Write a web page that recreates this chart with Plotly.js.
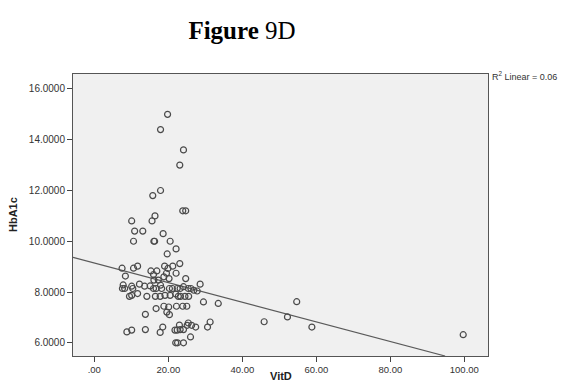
<!DOCTYPE html>
<html>
<head>
<meta charset="utf-8">
<script src="https://cdn.plot.ly/plotly-3.0.1.min.js"></script>
<style>html,body{margin:0;padding:0;background:#fff;}#chart{width:561px;height:382px;}</style>
</head>
<body>
<div id="chart"></div>
<script>
// Vitamin D (x) and HbA1c (y) values
const vitD = [19.8,17.9,24.1,23.1,17.9,15.8,23.9,24.7,16.4,10.1,15.6,10.9,13.1,18.6,10.6,16.1,16.3,20.5,22.1,19.7,7.5,10.6,11.7,15.3,16.9,19.0,19.9,21.2,23.1,22.1,19.5,
  8.4,16.0,18.8,20.2,24.7,28.6,7.8,8.2,7.6,10.1,10.4,12.2,13.6,15.1,16.0,16.7,17.9,18.2,20.3,21.1,22.4,23.2,24.1,25.4,26.1,26.9,27.8,11.7,10.1,9.5,14.2,16.5,17.8,19.1,20.5,22.0,22.7,23.3,24.5,25.5,29.5,33.5,16.7,18.8,20.1,22.2,23.9,25.0,19.6,13.8,20.3,16.1,17.3,
  8.8,10.1,13.8,17.8,18.5,21.8,22.4,23.2,24.1,23.0,25.4,25.1,26.3,27.4,26.0,30.6,31.3,22.0,22.5,24.1,45.9,52.2,54.7,58.8,99.7];
const hba1c = [15.0,14.4,13.6,13.0,12.0,11.8,11.2,11.2,11.0,10.8,10.8,10.4,10.4,10.3,10.0,10.0,10.0,10.0,9.7,9.5,8.94,8.94,9.02,8.83,8.83,9.02,8.93,9.02,9.12,8.74,8.74,
  8.63,8.69,8.60,8.53,8.53,8.31,8.28,8.14,8.14,8.23,8.14,8.31,8.23,8.24,8.14,8.14,8.27,8.14,8.14,8.14,8.14,8.14,8.21,8.14,8.14,8.07,8.04,7.94,7.87,7.83,7.83,7.83,7.83,7.87,7.87,7.92,7.83,7.83,7.83,7.83,7.61,7.55,7.35,7.44,7.41,7.44,7.44,7.44,7.21,7.12,7.11,8.47,8.47,
  6.43,6.50,6.52,6.41,6.62,6.50,6.50,6.52,6.52,6.70,6.78,6.69,6.69,6.62,6.23,6.62,6.82,6.0,6.0,6.0,6.83,7.02,7.62,6.62,6.32];

// Fit line end points
const fitX = [-5.76, 94.8];
const fitY = [9.37, 5.48];

// Tick values and labels
const xTickVals = [0, 20, 40, 60, 80, 100];
const xTickText = ['.00', '20.00', '40.00', '60.00', '80.00', '100.00'];
const yTickVals = [6, 8, 10, 12, 14, 16];
const yTickText = ['6.0000', '8.0000', '10.0000', '12.0000', '14.0000', '16.0000'];

const traces = [
  {
    x: fitX, y: fitY, type: 'scatter', mode: 'lines',
    line: {color: '#5a5a5a', width: 1.2}, hoverinfo: 'skip', cliponaxis: true
  },
  {
    x: vitD, y: hba1c, type: 'scatter', mode: 'markers',
    marker: {symbol: 'circle-open', size: 6, color: '#4a4a4a', line: {width: 1.2, color: '#4a4a4a'}}
  }
];

const tickFont = {family: 'Liberation Sans, Arial, sans-serif', size: 10, color: '#333'};

const layout = {
  width: 561, height: 382,
  margin: {l: 73, r: 73, t: 74, b: 26},
  paper_bgcolor: '#ffffff',
  plot_bgcolor: '#f0f0f0',
  showlegend: false,
  title: {
    text: '<b>Figure</b> 9D',
    font: {family: 'Liberation Serif, Times New Roman, serif', size: 25, color: '#000'},
    x: 242 / 561, xref: 'container', xanchor: 'center',
    y: 1 - 30 / 382, yref: 'container', yanchor: 'middle'
  },
  xaxis: {
    range: [-5.76, 106.4],
    tickmode: 'array', tickvals: xTickVals, ticktext: xTickText,
    ticks: 'outside', ticklen: 5, tickcolor: '#444', tickwidth: 1,
    showgrid: false, zeroline: false,
    showline: true, mirror: true, linecolor: '#555', linewidth: 1,
    tickfont: Object.assign({}, tickFont, {size: 9.5})
  },
  yaxis: {
    range: [5.48, 16.59],
    tickmode: 'array', tickvals: yTickVals, ticktext: yTickText,
    ticks: 'outside', ticklen: 5, tickcolor: '#444', tickwidth: 1,
    showgrid: false, zeroline: false,
    showline: true, mirror: true, linecolor: '#555', linewidth: 1,
    tickfont: tickFont
  },
  annotations: [
    {
      text: '<b>VitD</b>', xref: 'paper', yref: 'paper',
      x: 0.5, y: (356 - 376) / 282, xanchor: 'center', yanchor: 'middle',
      showarrow: false,
      font: {family: 'Liberation Sans, Arial, sans-serif', size: 11, color: '#222'}
    },
    {
      text: '<b>HbA1c</b>', xref: 'paper', yref: 'paper',
      x: (13 - 73) / 415, y: 0.5, xanchor: 'center', yanchor: 'middle',
      textangle: -90, showarrow: false,
      font: {family: 'Liberation Sans, Arial, sans-serif', size: 11, color: '#222'}
    },
    {
      text: 'R<sup>2</sup> Linear = 0.06', xref: 'paper', yref: 'paper',
      x: (490 - 73) / 415, y: (356 - 76) / 282, xanchor: 'left', yanchor: 'middle',
      showarrow: false,
      font: {family: 'Liberation Sans, Arial, sans-serif', size: 9, color: '#333'}
    }
  ]
};

Plotly.newPlot('chart', traces, layout, {staticPlot: true, displayModeBar: false});
</script>
</body>
</html>
